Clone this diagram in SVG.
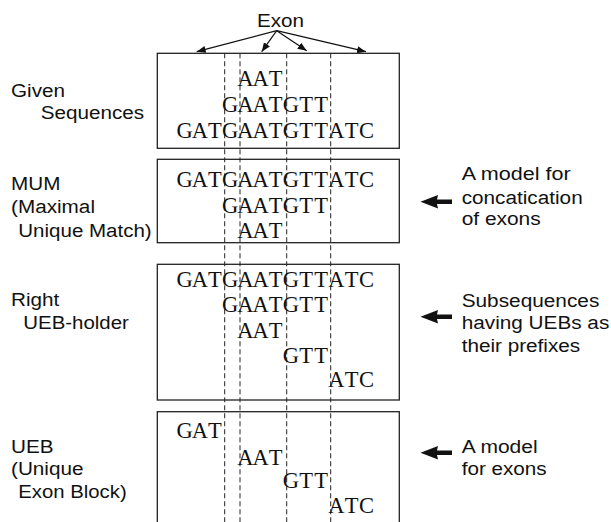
<svg xmlns="http://www.w3.org/2000/svg" width="611" height="522" viewBox="0 0 611 522">
<defs>
<style>
.box{fill:none;stroke:#222;stroke-width:1.3}
.dash{stroke:#222;stroke-width:1;stroke-dasharray:5,3}
.seq{font-family:"Liberation Serif","Times New Roman",serif;font-size:22.5px;fill:#111;text-anchor:middle}
.lab{font-family:"Liberation Sans",Arial,sans-serif;font-size:18px;fill:#111}
.conn{stroke:#111;stroke-width:1.2;fill:none}
.big{fill:#111}
</style>
<marker id="ah" viewBox="0 0 10 10" refX="10" refY="5" markerWidth="9" markerHeight="9" markerUnits="userSpaceOnUse" orient="auto">
<path d="M0,1 L10,5 L0,9 z" fill="#111"/>
</marker>
</defs>
<rect width="611" height="522" fill="#fff"/>

<g id="exon-label">
<text class="lab" x="257" y="27" textLength="47" lengthAdjust="spacingAndGlyphs">Exon</text>
</g>

<g id="connectors">
<line class="conn" x1="276.7" y1="30.7" x2="196.7" y2="51.7" marker-end="url(#ah)"/>
<line class="conn" x1="276.7" y1="30.7" x2="261.7" y2="51.7" marker-end="url(#ah)"/>
<line class="conn" x1="276.7" y1="30.7" x2="306.7" y2="50.7" marker-end="url(#ah)"/>
<line class="conn" x1="276.7" y1="30.7" x2="366" y2="51.7" marker-end="url(#ah)"/>
<polygon class="big" points="420.5,201.7 438,195 437,199.4 452,199.4 452,204 437,204 438,208.4"/>
<polygon class="big" points="420.5,316.7 438,310 437,314.4 452,314.4 452,319 437,319 438,323.4"/>
<polygon class="big" points="420.5,452.7 438,446 437,450.4 452,450.4 452,455 437,455 438,459.4"/>
</g>

<g id="dashes">
<line class="dash" x1="224.7" y1="53.3" x2="224.7" y2="522"/>
<line class="dash" x1="240" y1="53.3" x2="240" y2="522"/>
<line class="dash" x1="286.7" y1="53.3" x2="286.7" y2="522"/>
<line class="dash" x1="330.7" y1="53.3" x2="330.7" y2="522"/>
</g>

<g id="given">
<rect class="box" x="157.3" y="53.3" width="242" height="95"/>
<text class="seq" x="245.3 260.5 275.6" y="86">AAT</text>
<text class="seq" x="230.1 245.3 260.5 275.6 290.8 306 321.1" y="111.7">GAATGTT</text>
<text class="seq" x="184.6 199.8 214.9 230.1 245.3 260.5 275.6 290.8 306 321.1 336.3 351.5 366.6" y="138.3">GATGAATGTTATC</text>
<text class="lab" x="11" y="96.7" textLength="54" lengthAdjust="spacingAndGlyphs">Given</text>
<text class="lab" x="40.7" y="119.3" textLength="103.4" lengthAdjust="spacingAndGlyphs">Sequences</text>
</g>

<g id="mum">
<rect class="box" x="157.3" y="159.3" width="242" height="83.4"/>
<text class="seq" x="184.6 199.8 214.9 230.1 245.3 260.5 275.6 290.8 306 321.1 336.3 351.5 366.6" y="186.7">GATGAATGTTATC</text>
<text class="seq" x="230.1 245.3 260.5 275.6 290.8 306 321.1" y="212.8">GAATGTT</text>
<text class="seq" x="245.3 260.5 275.6" y="237.5">AAT</text>
<text class="lab" x="11" y="190" textLength="49.4" lengthAdjust="spacingAndGlyphs">MUM</text>
<text class="lab" x="11" y="213.3" textLength="84" lengthAdjust="spacingAndGlyphs">(Maximal</text>
<text class="lab" x="18.3" y="236.7" textLength="133.4" lengthAdjust="spacingAndGlyphs">Unique Match)</text>
<text class="lab" x="461.7" y="180" textLength="109" lengthAdjust="spacingAndGlyphs">A model for</text>
<text class="lab" x="461.7" y="203.5" textLength="121" lengthAdjust="spacingAndGlyphs">concatication</text>
<text class="lab" x="461.7" y="225" textLength="79" lengthAdjust="spacingAndGlyphs">of exons</text>
</g>

<g id="right-ueb-holder">
<rect class="box" x="157.3" y="264.3" width="242" height="135.7"/>
<text class="seq" x="184.6 199.8 214.9 230.1 245.3 260.5 275.6 290.8 306 321.1 336.3 351.5 366.6" y="286.7">GATGAATGTTATC</text>
<text class="seq" x="230.1 245.3 260.5 275.6 290.8 306 321.1" y="312.3">GAATGTT</text>
<text class="seq" x="245.3 260.5 275.6" y="338.3">AAT</text>
<text class="seq" x="290.8 306 321.1" y="363.3">GTT</text>
<text class="seq" x="336.3 351.5 366.6" y="387">ATC</text>
<text class="lab" x="11" y="306" textLength="48.3" lengthAdjust="spacingAndGlyphs">Right</text>
<text class="lab" x="23.3" y="329.3" textLength="105.5" lengthAdjust="spacingAndGlyphs">UEB-holder</text>
<text class="lab" x="461.7" y="306.7" textLength="137.6" lengthAdjust="spacingAndGlyphs">Subsequences</text>
<text class="lab" x="461.7" y="329.3" textLength="147.6" lengthAdjust="spacingAndGlyphs">having UEBs as</text>
<text class="lab" x="461.7" y="351.7" textLength="118.5" lengthAdjust="spacingAndGlyphs">their prefixes</text>
</g>

<g id="ueb">
<rect class="box" x="157.3" y="411.7" width="242" height="130"/>
<text class="seq" x="184.6 199.8 214.9" y="438.3">GAT</text>
<text class="seq" x="245.3 260.5 275.6" y="465">AAT</text>
<text class="seq" x="290.8 306 321.1" y="488.3">GTT</text>
<text class="seq" x="336.3 351.5 366.6" y="513.3">ATC</text>
<text class="lab" x="11" y="452.7" textLength="42.6" lengthAdjust="spacingAndGlyphs">UEB</text>
<text class="lab" x="11" y="475" textLength="72.5" lengthAdjust="spacingAndGlyphs">(Unique</text>
<text class="lab" x="18.3" y="498.3" textLength="108.4" lengthAdjust="spacingAndGlyphs">Exon Block)</text>
<text class="lab" x="461.7" y="453.3" textLength="76" lengthAdjust="spacingAndGlyphs">A model</text>
<text class="lab" x="461.7" y="475" textLength="85" lengthAdjust="spacingAndGlyphs">for exons</text>
</g>
</svg>
